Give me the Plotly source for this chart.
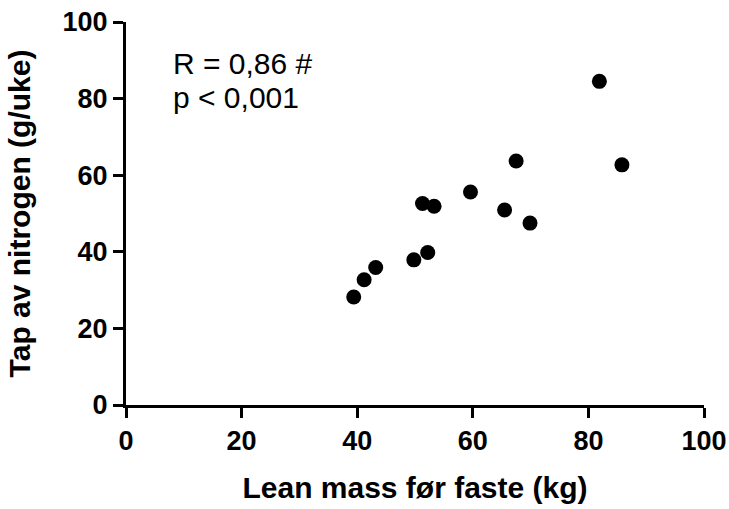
import plotly.graph_objects as go

lean_mass = [39.4, 41.2, 43.2, 49.8, 52.2, 51.3, 53.3, 59.6, 67.5, 65.5, 69.9, 81.9, 85.8]
nitrogen_loss = [28.2, 32.7, 35.9, 37.9, 39.8, 52.6, 51.9, 55.6, 63.7, 50.9, 47.5, 84.5, 62.7]
tick_vals = [0, 20, 40, 60, 80, 100]
x_title = "Lean mass før faste (kg)"
y_title = "Tap av nitrogen (g/uke)"
stat_lines = ["R = 0,86 #", "p < 0,001"]
stat_y = [89.2, 80.3]

FONT = "Liberation Sans, Arial, sans-serif"

fig = go.Figure()
fig.add_trace(go.Scatter(
    x=lean_mass, y=nitrogen_loss, mode="markers",
    marker=dict(size=15, color="black", line=dict(width=0)),
    showlegend=False, cliponaxis=False,
))

axis_common = dict(
    range=[0, 100], tickvals=tick_vals, showgrid=False, zeroline=False,
    showline=True, linecolor="black", linewidth=3, automargin=False,
    ticks="outside", ticklen=10, tickwidth=3, tickcolor="black",
    tickfont=dict(family=FONT, size=27, color="black", weight="bold"),
)

fig.update_layout(
    width=729, height=509,
    margin=dict(l=126, r=25, t=22, b=104),
    paper_bgcolor="white", plot_bgcolor="white",
    xaxis=dict(**axis_common,
               title=dict(text=x_title, standoff=22,
                          font=dict(family=FONT, size=30, color="black", weight="bold"))),
    yaxis=dict(**axis_common,
               title=dict(text=y_title, standoff=24,
                          font=dict(family=FONT, size=30, color="black", weight="bold"))),
)

for txt, yv in zip(stat_lines, stat_y):
    fig.add_annotation(
        text=txt, xref="paper", yref="y", x=0.078, y=yv,
        xanchor="left", yanchor="middle", showarrow=False,
        font=dict(family=FONT, size=30, color="black"),
    )

fig.write_html("out.html")
